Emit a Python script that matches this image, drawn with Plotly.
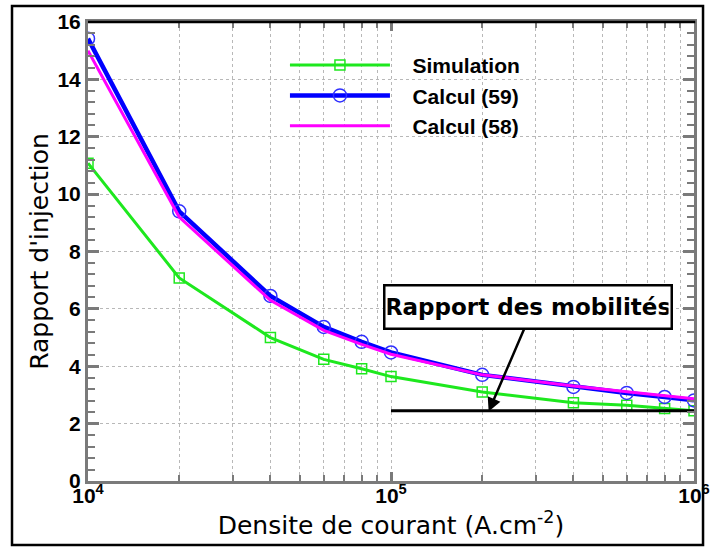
import math
import plotly.graph_objects as go

# ---- data ----
current_density = [1e4, 2e4, 4e4, 6e4, 8e4, 1e5, 2e5, 4e5, 6e5, 8e5, 1e6]
simulation = [11.08, 7.08, 5.0, 4.24, 3.91, 3.64, 3.10, 2.73, 2.64, 2.53, 2.45]
calcul_59 = [15.42, 9.40, 6.45, 5.37, 4.85, 4.48, 3.70, 3.28, 3.07, 2.93, 2.81]
calcul_58 = [15.0, 9.20, 6.30, 5.25, 4.76, 4.42, 3.70, 3.31, 3.11, 2.97, 2.87]
mobility_x = [1e5, 1e6]
mobility_ratio = [2.45, 2.45]

x_major = [1e4, 1e5, 1e6]
x_major_text = ["10<sup>4</sup>", "10<sup>5</sup>", "10<sup>6</sup>"]
x_minor = [m * d for d in (1e4, 1e5) for m in range(2, 10)]
y_ticks = [0, 2, 4, 6, 8, 10, 12, 14, 16]

arrow_tip_x, arrow_tip_y = 2.1e5, 2.42
label_x, label_y = 2.83e5, 6.05

AX_GRAY = "#7a7a7a"
GRID = "#b8b8b8"
TICK_FONT = dict(family="Liberation Sans, Arial", size=21, color="black", weight="bold")
TITLE_FONT = dict(family="DejaVu Sans", size=25, color="black")
PAD = "\u00a0\u00a0\u00a0"

fig = go.Figure()
fig.add_trace(go.Scatter(
    x=current_density, y=simulation, name=PAD + "Simulation", mode="lines+markers",
    line=dict(color="#1ee81e", width=3),
    marker=dict(symbol="square-open", size=10, color="#1ee81e", line=dict(width=1.5)),
))
fig.add_trace(go.Scatter(
    x=current_density, y=calcul_59, name=PAD + "Calcul (59)", mode="lines+markers",
    line=dict(color="#0000ff", width=4.5),
    marker=dict(symbol="circle-open", size=13, color="#3030ff", line=dict(width=1.5)),
))
fig.add_trace(go.Scatter(
    x=current_density, y=calcul_58, name=PAD + "Calcul (58)", mode="lines",
    line=dict(color="#ff00ff", width=3),
))
fig.add_trace(go.Scatter(
    x=mobility_x, y=mobility_ratio, mode="lines", showlegend=False,
    line=dict(color="black", width=3),
))

fig.update_layout(
    width=710, height=548,
    margin=dict(l=88, r=16, t=22, b=67, autoexpand=False),
    paper_bgcolor="white", plot_bgcolor="white",
    showlegend=True,
    legend=dict(
        x=0.325, y=0.950, xanchor="left", yanchor="top",
        bgcolor="rgba(0,0,0,0)", borderwidth=0,
        font=dict(family="Liberation Sans, Arial", size=21, color="black", weight="bold"),
        itemwidth=100, tracegroupgap=0,
    ),
)

fig.update_xaxes(
    type="log", range=[4, 6],
    tickmode="array", tickvals=x_major, ticktext=x_major_text,
    tickfont=TICK_FONT, ticklabelstandoff=-6,
    ticks="inside", ticklen=9, tickwidth=2.5, tickcolor=AX_GRAY,
    showline=True, linecolor=AX_GRAY, linewidth=3, mirror="allticks",
    showgrid=True, gridcolor=GRID, griddash="dot", gridwidth=1,
    minor=dict(tickmode="array", tickvals=x_minor, ticks="inside", ticklen=6,
               tickwidth=1.5, tickcolor=AX_GRAY, showgrid=True,
               gridcolor=GRID, griddash="dot", gridwidth=1),
    zeroline=False,
    title=dict(text="Densite de courant (A.cm<sup>-2</sup>)", font=TITLE_FONT, standoff=0),
    automargin=False,
)
fig.update_yaxes(
    range=[0, 16],
    tickmode="array", tickvals=y_ticks,
    tickfont=TICK_FONT,
    ticks="inside", ticklen=11, tickwidth=2.5, tickcolor=AX_GRAY,
    showline=True, linecolor=AX_GRAY, linewidth=3, mirror="allticks",
    showgrid=True, gridcolor=GRID, griddash="dot", gridwidth=1,
    minor=dict(dtick=0.4, ticks="inside", ticklen=7, tickwidth=1.5,
               tickcolor=AX_GRAY, showgrid=False),
    zeroline=False,
    title=dict(text="Rapport d'injection", font=TITLE_FONT, standoff=2),
    automargin=False,
)

# top border of plot area in black
fig.add_shape(type="line", xref="paper", yref="paper", x0=0, x1=1.002, y0=1, y1=1,
              line=dict(color="black", width=2.5))
# outer frame of the figure
fig.add_shape(type="rect", xref="paper", yref="paper",
              x0=-0.1254, x1=1.0149, y0=-0.1394, y1=1.0349,
              line=dict(color="black", width=2.5), fillcolor="rgba(0,0,0,0)")

# arrow
fig.add_annotation(
    x=math.log10(arrow_tip_x), y=arrow_tip_y, xref="x", yref="y",
    ax=37, ay=-86, text="", showarrow=True,
    arrowhead=2, arrowsize=1.1, arrowwidth=2.5, arrowcolor="black",
)
# label box
fig.add_annotation(
    x=math.log10(label_x), y=label_y, xref="x", yref="y",
    text="<b>Rapport des mobilités</b>", showarrow=False,
    font=dict(family="DejaVu Sans", size=23, color="black"),
    width=281, height=37,
    bgcolor="white", bordercolor="black", borderwidth=2.5, borderpad=2,
)

fig.write_html("out.html",
               config={"displayModeBar": False},
               post_script="document.body.style.margin='0';document.body.style.overflow='hidden';")
